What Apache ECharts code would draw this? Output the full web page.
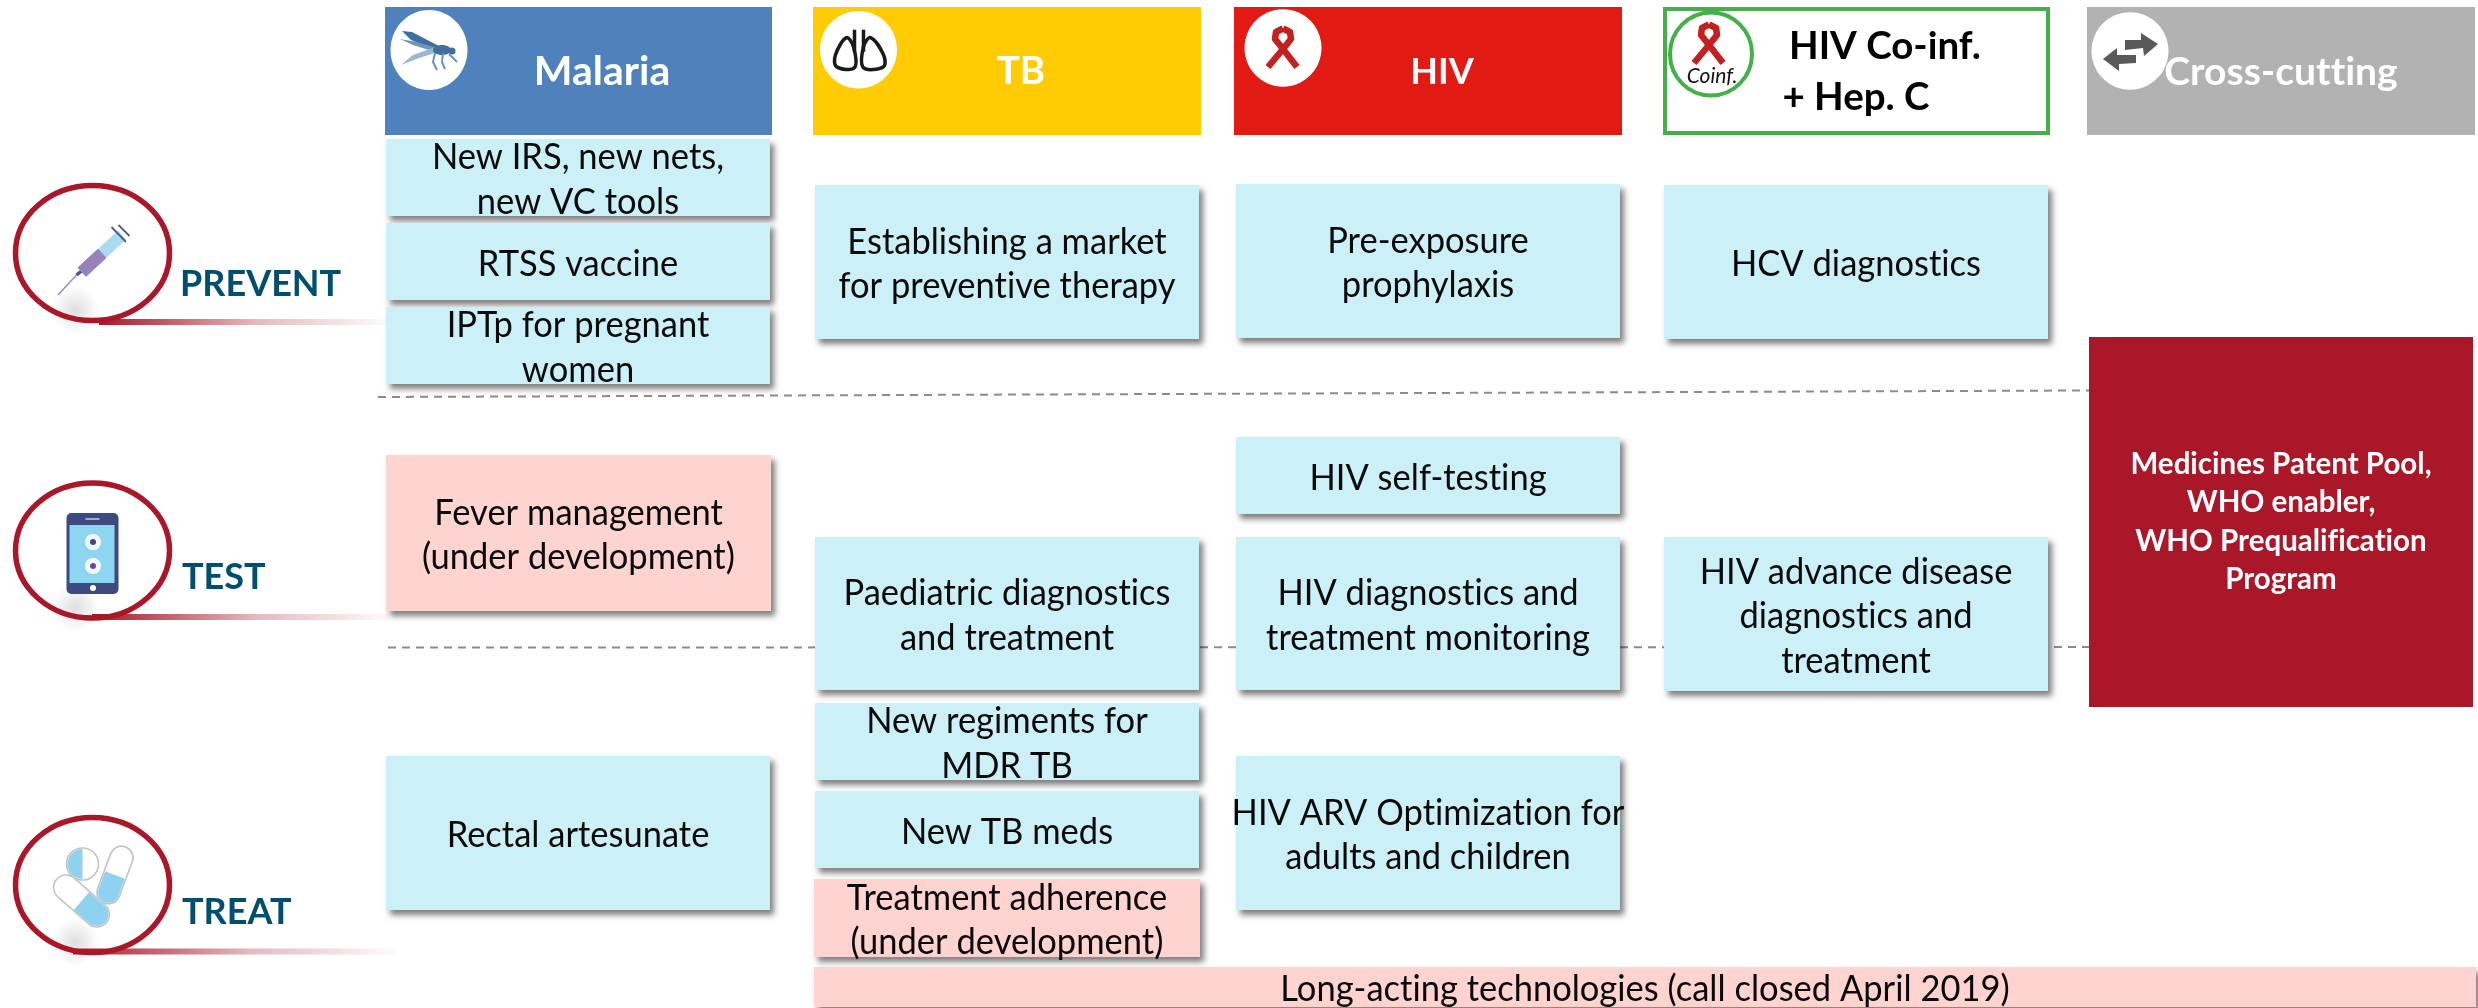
<!DOCTYPE html>
<html>
<head>
<meta charset="utf-8">
<style>html,body{margin:0;padding:0;background:#fff}#c{width:2478px;height:1008px}</style>
<script src="https://cdn.jsdelivr.net/npm/echarts@6/dist/echarts.min.js"></script>
</head>
<body>
<div id="c"></div>
<script>
// ---------- data: header blocks (in canvas axis units) ----------
const headerLeft   = [385, 813, 1234, 1663, 2087];
const headerRight  = [772, 1201, 1622, 2050, 2475];
const headerTop    = [7, 7, 7, 7, 7];
const headerBottom = [135, 135, 135, 135, 135];
const headerKinds  = ['malaria', 'tb', 'hiv', 'coinf', 'cross'];
const headerTexts  = ['Malaria', 'TB', 'HIV', 'HIV Co-inf.', '+ Hep. C', 'Cross-cutting'];
const headerTextX  = [602, 1021, 1442, 1885, 1856, 2281];
const headerTextY  = [72, 72, 72, 47, 98, 72];

// ---------- data: intervention cards ----------
const cardLabels = [
  'New IRS, new nets,\nnew VC tools', 'RTSS vaccine', 'IPTp for pregnant\nwomen',
  'Establishing a market\nfor preventive therapy', 'Pre-exposure\nprophylaxis', 'HCV diagnostics',
  'Fever management\n(under development)', 'HIV self-testing',
  'Paediatric diagnostics\nand treatment', 'HIV diagnostics and\ntreatment monitoring',
  'HIV advance disease\ndiagnostics and\ntreatment',
  'Rectal artesunate', 'New regiments for\nMDR TB', 'New TB meds',
  'Treatment adherence\n(under development)', 'HIV ARV Optimization for\nadults and children',
  'Long-acting technologies (call closed April 2019)'
];
const cardLeft   = [386, 386, 386, 815, 1236, 1664, 386, 1236, 815, 1236, 1664, 386, 815, 815, 814, 1236, 814];
const cardRight  = [770, 770, 770, 1199, 1620, 2048, 771, 1620, 1199, 1620, 2048, 770, 1199, 1199, 1200, 1620, 2476];
const cardTop    = [139, 223, 307, 185, 184, 185, 455, 437, 537, 537, 537, 756, 703, 791, 879, 756, 967];
const cardBottom = [216, 300, 384, 339, 338, 339, 611, 514, 690, 690, 691, 910, 780, 868, 957, 910, 1007];
const cardStatus = ['go','go','go','go','go','go','dev','go','go','go','go','go','go','go','dev','go','dev'];

// ---------- data: enabler block ----------
const enablerText   = 'Medicines Patent Pool,\nWHO enabler,\nWHO Prequalification\nProgram';
const enablerBounds = [2089, 337, 2473, 707];

// ---------- data: stages (rows) ----------
const stageLabels   = ['PREVENT', 'TEST', 'TREAT'];
const stageLabelX   = [180, 182, 182];
const stageLabelY   = [284, 577, 912];
const ringX         = [92.5, 92.5, 92.5];
const ringY         = [253, 550.5, 885];
const ruleStart     = [99, 92, 73];
const ruleEnd       = [386, 390, 395];
const ruleY         = [322, 617, 951.5];

// ---------- data: dividers ----------
const dividerOne = [[378, 397], [2478, 389]];
const dividerTwo = [[388, 647.5], [2089, 647]];

const FONT = 'Lato, "Open Sans", sans-serif';
const CARD_FONT = 34.5;
const CARD_STRETCH = 1.08;
const CARD_LINE = 44.5;
const STAGE_FONT = 36;
const headerFontSizes = [41, 38.5, 36, 38.5, 38.5, 39];
const cardFill = {go: '#cbf0f8', dev: '#ffd4d0'};
const headerFill = {malaria: '#4f81bd', tb: '#ffcc04', hiv: '#e21a14', coinf: '#ffffff', cross: '#b2b2b2'};

// Plain glyphs, no "ti"/"tt" ligatures, as in the reference lettering.
const nativeGetContext = HTMLCanvasElement.prototype.getContext;
HTMLCanvasElement.prototype.getContext = function (kind, opts) {
  const ctx = nativeGetContext.call(this, kind, opts);
  if (kind === '2d' && ctx && 'textRendering' in ctx) ctx.textRendering = 'optimizeSpeed';
  return ctx;
};

function ribbon(x, y) {
  const col = '#c32020';
  const s = {stroke: col, fill: 'none', lineWidth: 6.5, lineJoin: 'round', lineCap: 'butt'};
  return {type: 'group', x, y, children: [
    {type: 'polyline', shape: {points: [[14, 19], [0, 1], [-8, -9], [-7, -16], [0, -19.5]]}, style: s},
    {type: 'polyline', shape: {points: [[-15, 19], [0, 1], [8, -9], [7, -16], [0, -19.5]]}, style: s}
  ]};
}

function headerIcon(kind) {
  if (kind === 'malaria') {
    const c = '#3f6f9f';
    return {pos: [429, 50], rx: 38.5, ry: 40, children: [
      {type: 'polygon', shape: {points: [[-27, -19], [-17, -18], [10, -4], [5, 0], [-18, -10]]}, style: {fill: c}},
      {type: 'polygon', shape: {points: [[-29, -11], [-12, -8], [8, -2], [3, 1], [-16, -5]]}, style: {fill: '#6f94ba'}},
      {type: 'polygon', shape: {points: [[-28, 15], [-16, 5], [6, -3], [9, 2], [-10, 8]]}, style: {fill: '#9db6cf'}},
      {type: 'ellipse', shape: {cx: 13, cy: 0, rx: 9, ry: 5}, style: {fill: c}},
      {type: 'circle', shape: {cx: 23, cy: 1, r: 3.5}, style: {fill: c}},
      {type: 'polyline', shape: {points: [[6, 3], [4, 12], [8, 20]]}, style: {stroke: '#6d92b8', lineWidth: 2, fill: 'none'}},
      {type: 'polyline', shape: {points: [[14, 3], [13, 12], [16, 19]]}, style: {stroke: '#6d92b8', lineWidth: 2, fill: 'none'}},
      {type: 'polyline', shape: {points: [[20, 4], [24, 8], [28, 12]]}, style: {stroke: '#6d92b8', lineWidth: 2, fill: 'none'}}
    ]};
  }
  if (kind === 'tb') {
    const s = {stroke: '#1a1a1a', fill: 'none', lineWidth: 3.5};
    return {pos: [858.5, 49.7], rx: 38.5, ry: 38.7, children: [
      {type: 'polygon', shape: {smooth: 0.35, points: [[-12, -12], [-23, 5], [-22, 17], [-4, 18], [-5, -3]]}, style: s},
      {type: 'polygon', shape: {smooth: 0.35, points: [[12, -12], [25, 5], [25, 17], [5, 18], [5, -3]]}, style: s},
      {type: 'line', shape: {x1: -4, y1: -20, x2: -4, y2: 2}, style: s},
      {type: 'line', shape: {x1: 5, y1: -20, x2: 5, y2: 2}, style: s}
    ]};
  }
  if (kind === 'hiv') {
    return {pos: [1283, 48], rx: 38.5, ry: 38.7, children: [ribbon(0, 0)]};
  }
  if (kind === 'coinf') {
    return {pos: [1711, 54], rx: 41, ry: 41.5, ring: '#45b04a', children: [
      ribbon(-2, -10),
      {type: 'text', style: {x: 1, y: 22, text: 'Coinf.', fontSize: 21, fontStyle: 'italic', fontFamily: FONT,
        fill: '#111', align: 'center', verticalAlign: 'middle'}}
    ]};
  }
  const g = '#595959';
  return {pos: [2130, 51], rx: 38.5, ry: 38.7, children: [
    {type: 'polygon', shape: {points: [[-5, -11], [11, -11], [11, -18], [28, -7], [14, 5], [13, -3], [-5, -1]]}, style: {fill: g}},
    {type: 'polygon', shape: {points: [[-27, 8], [-13, -3], [-13, 4], [6, 4], [6, 12], [-11, 13], [-11, 20]]}, style: {fill: g}}
  ]};
}

function capsule(cx, cy, angle, len, wid) {
  const r = wid / 2;
  return {type: 'group', x: cx, y: cy, rotation: angle, children: [
    {type: 'rect', shape: {x: -len / 2, y: -r, width: len, height: wid, r}, style: {fill: '#fff', stroke: '#c4c4c4', lineWidth: 1.6}},
    {type: 'rect', shape: {x: 0, y: -r + 1, width: len / 2 - 1, height: wid - 2, r: [0, r, r, 0]}, style: {fill: '#8fd2ef'}}
  ]};
}

function stageIcon(i) {
  if (i === 0) {
    return [
      {type: 'line', shape: {x1: -34.5, y1: 42, x2: -16, y2: 22}, style: {stroke: '#8e93ad', lineWidth: 1.5}},
      {type: 'line', shape: {x1: -16, y1: 22, x2: -11, y2: 18}, style: {stroke: '#4b5587', lineWidth: 3.5}},
      {type: 'polygon', shape: {points: [[-14.5, 14.6], [-6.5, 23.4], [33.5, -13.6], [25.5, -22.4]]}, style: {fill: '#a9dcf0'}},
      {type: 'polygon', shape: {points: [[-14.5, 14.6], [-6.5, 23.4], [13.5, 4.9], [5.5, -3.9]]}, style: {fill: '#9a80ba', stroke: '#7f9bc9', lineWidth: 1}},
      {type: 'line', shape: {x1: 19, y1: -26, x2: 33.5, y2: -11}, style: {stroke: '#4f5d8e', lineWidth: 1.8}},
      {type: 'line', shape: {x1: 26, y1: -28, x2: 37, y2: -17}, style: {stroke: '#4f5d8e', lineWidth: 1.8}}
    ];
  }
  if (i === 1) {
    return [
      {type: 'rect', shape: {x: -26, y: -37.5, width: 52, height: 81, r: 5}, style: {fill: '#3d4a80'}},
      {type: 'rect', shape: {x: -23, y: -25.5, width: 45, height: 58}, style: {fill: '#8ed6f0'}},
      {type: 'line', shape: {x1: -7, y1: -31.5, x2: 7, y2: -31.5}, style: {stroke: '#c9cede', lineWidth: 1.5}},
      {type: 'circle', shape: {cx: 0.5, cy: -8.5, r: 8}, style: {fill: '#fff', opacity: 0.9}},
      {type: 'circle', shape: {cx: 0.5, cy: -8.5, r: 3}, style: {fill: '#3d4a80'}},
      {type: 'circle', shape: {cx: 0.5, cy: 15.5, r: 8}, style: {fill: '#fff', opacity: 0.9}},
      {type: 'circle', shape: {cx: 0.5, cy: 15.5, r: 3}, style: {fill: '#6b4a9f'}},
      {type: 'circle', shape: {cx: 0.5, cy: 37.5, r: 3}, style: {fill: '#fff'}}
    ];
  }
  return [
    capsule(22.5, -10, -1.93, 60, 23),
    capsule(-11, 16, -0.72, 66, 25),
    {type: 'circle', shape: {cx: -10, cy: -21, r: 16}, style: {fill: '#fff', stroke: '#c4c4c4', lineWidth: 1.6}},
    {type: 'sector', shape: {cx: -10, cy: -21, r: 15, r0: 0, startAngle: Math.PI / 2, endAngle: Math.PI * 1.5}, style: {fill: '#8fd2ef'}}
  ];
}

function corners(api, l, t, r, b) {
  const p0 = api.coord([l, t]), p1 = api.coord([r, b]);
  return {x: p0[0], y: p0[1], width: p1[0] - p0[0], height: p1[1] - p0[1]};
}

const option = {
  animation: false,
  backgroundColor: '#ffffff',
  grid: {left: 0, right: 0, top: 0, bottom: 0},
  xAxis: {type: 'value', min: 0, max: 2478, show: false},
  yAxis: {type: 'value', min: 0, max: 1008, inverse: true, show: false},
  tooltip: {show: false},
  series: [
    {type: 'line', data: dividerOne, symbol: 'none', silent: true, z: 1,
      lineStyle: {color: '#8c8c8c', width: 2, type: [8, 6]}},
    {type: 'line', data: dividerTwo, symbol: 'none', silent: true, z: 1,
      lineStyle: {color: '#8c8c8c', width: 2, type: [8, 6]}},
    // stage markers
    {type: 'custom', coordinateSystem: 'cartesian2d', clip: false, z: 2, silent: true,
      data: stageLabels.map((s, i) => [ringX[i], ringY[i], ruleStart[i], ruleEnd[i], ruleY[i], stageLabelX[i], stageLabelY[i]]),
      encode: {x: 0, y: 1},
      renderItem(params, api) {
        const i = params.dataIndex;
        const c = api.coord([api.value(0), api.value(1)]);
        const ru = corners(api, api.value(2), api.value(4) - 3, api.value(3), api.value(4) + 3);
        const lab = api.coord([api.value(5), api.value(6)]);
        return {type: 'group', children: [
          {type: 'ellipse', shape: {cx: c[0] - 17, cy: c[1] + 57, rx: 92, ry: 24},
            style: {fill: {type: 'radial', x: 0.5, y: 0.5, r: 0.5, colorStops: [
              {offset: 0, color: 'rgba(0,0,0,0.13)'}, {offset: 1, color: 'rgba(0,0,0,0)'}]}}},
          {type: 'rect', shape: ru, style: {fill: {type: 'linear', x: 0, y: 0, x2: 1, y2: 0, colorStops: [
              {offset: 0, color: '#a91729'}, {offset: 0.55, color: 'rgba(169,23,41,0.3)'}, {offset: 1, color: 'rgba(169,23,41,0.02)'}]}}},
          {type: 'ellipse', shape: {cx: c[0], cy: c[1], rx: 77, ry: 67.5},
            style: {fill: 'none', stroke: '#a91729', lineWidth: 5.5}},
          {type: 'group', x: c[0], y: c[1], children: stageIcon(i)},
          {type: 'text', style: {x: lab[0], y: lab[1], text: stageLabels[i], fontFamily: FONT, fontWeight: 'bold',
            fontSize: STAGE_FONT, fill: '#004f71', align: 'left', verticalAlign: 'middle'}}
        ]};
      }},
    // header blocks
    {type: 'custom', coordinateSystem: 'cartesian2d', clip: false, z: 3, silent: true,
      data: headerKinds.map((k, i) => [headerLeft[i], headerTop[i], headerRight[i], headerBottom[i]]),
      encode: {x: 0, y: 1},
      renderItem(params, api) {
        const kind = headerKinds[params.dataIndex];
        const box = corners(api, api.value(0), api.value(1), api.value(2), api.value(3));
        const ic = headerIcon(kind);
        const p = api.coord(ic.pos);
        const boxEl = kind === 'coinf'
          ? {type: 'rect', shape: {x: box.x + 2, y: box.y + 2, width: box.width - 4, height: box.height - 4},
              style: {fill: '#fff', stroke: '#45b04a', lineWidth: 4}}
          : {type: 'rect', shape: box, style: {fill: headerFill[kind]}};
        return {type: 'group', children: [
          boxEl,
          {type: 'ellipse', shape: {cx: p[0], cy: p[1], rx: ic.rx, ry: ic.ry},
            style: {fill: '#fff', stroke: ic.ring || 'none', lineWidth: ic.ring ? 4 : 0}},
          {type: 'group', x: p[0], y: p[1], children: ic.children}
        ]};
      }},
    // header titles
    {type: 'custom', coordinateSystem: 'cartesian2d', clip: false, z: 4, silent: true,
      data: headerTexts.map((t, i) => [headerTextX[i], headerTextY[i]]),
      encode: {x: 0, y: 1},
      renderItem(params, api) {
        const i = params.dataIndex;
        const p = api.coord([api.value(0), api.value(1)]);
        const dark = i === 3 || i === 4;
        return {type: 'text', style: {x: p[0], y: p[1], text: headerTexts[i], fontFamily: FONT, fontWeight: 'bold',
          fontSize: headerFontSizes[i], fill: dark ? '#000' : '#fff', align: 'center', verticalAlign: 'middle'}};
      }},
    // enabler
    {type: 'custom', coordinateSystem: 'cartesian2d', clip: false, z: 5, silent: true,
      data: [enablerBounds],
      encode: {x: 0, y: 1},
      renderItem(params, api) {
        const box = corners(api, api.value(0), api.value(1), api.value(2), api.value(3));
        return {type: 'group', children: [
          {type: 'rect', shape: box, style: {fill: '#a91729'}},
          {type: 'text', style: {x: box.x + box.width / 2, y: box.y + box.height / 2, text: enablerText,
            fontFamily: FONT, fontWeight: 'bold', fontSize: 29.5, lineHeight: 38.6, fill: '#fff',
            align: 'center', verticalAlign: 'middle'}}
        ]};
      }},
    // cards
    {type: 'custom', coordinateSystem: 'cartesian2d', clip: false, z: 6, silent: true,
      data: cardLabels.map((t, i) => [cardLeft[i], cardTop[i], cardRight[i], cardBottom[i]]),
      encode: {x: 0, y: 1},
      renderItem(params, api) {
        const i = params.dataIndex;
        const box = corners(api, api.value(0), api.value(1), api.value(2), api.value(3));
        return {type: 'group', children: [
          {type: 'rect', shape: box, style: {fill: cardFill[cardStatus[i]], shadowBlur: 6,
            shadowOffsetX: 4, shadowOffsetY: 5, shadowColor: 'rgba(0,0,0,0.5)'}},
          {type: 'text', x: box.x + box.width / 2, y: box.y + box.height / 2 + 2, scaleY: CARD_STRETCH,
            style: {x: 0, y: 0, text: cardLabels[i], fontFamily: FONT, fontSize: CARD_FONT,
              lineHeight: CARD_LINE / CARD_STRETCH, fill: '#0a0a0a', align: 'center', verticalAlign: 'middle'}}
        ]};
      }}
  ]
};

const chart = echarts.init(document.getElementById('c'), null, {renderer: 'canvas'});
chart.setOption(option);
</script>
</body>
</html>
